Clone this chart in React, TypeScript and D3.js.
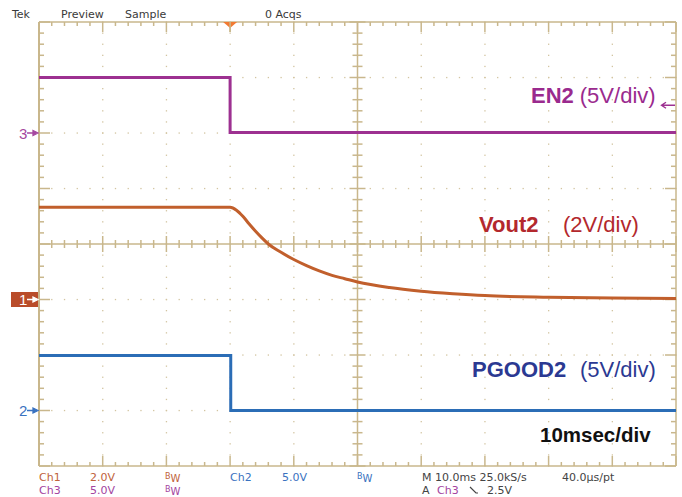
import React from "react";
import * as d3 from "d3";

// ---- data (time in ms, values in volts) ----
const en2Time = [0, 30, 30, 100];
const en2Volts = [5.0, 5.0, 0.05, 0.05];

const pgoodTime = [0, 30.1, 30.1, 100];
const pgoodVolts = [4.95, 4.95, 0.0, 0.0];

const voutTime = [0, 10, 20, 30, 31, 32, 33, 34, 35, 36, 38, 40, 42, 44, 46, 48, 50, 55, 60, 65, 70, 80, 90, 100];
const voutVolts = [3.32, 3.32, 3.32, 3.32, 3.22, 3.0, 2.72, 2.46, 2.22, 2.0, 1.7, 1.44, 1.22, 1.03, 0.87, 0.75, 0.63, 0.43, 0.3, 0.21, 0.14, 0.08, 0.05, 0.04];

// channel settings: volts/div and ground offset (divisions from centre)
const channelNames = ["Ch1", "Ch2", "Ch3"];
const voltsPerDiv = [2, 5, 5];
const groundDiv = [-1, -3, 2];

const headerLabels = ["Tek", "Preview", "Sample", "0 Acqs"];
const timePerDivMs = 10;
const hDivs = 10;
const vDivs = 8;

const W = 682, H = 497;
const L = 39, R = 676, T = 22, B = 466;

const TAN = "#c9b78c";
const DOT = "#d2c4a0";
const PURPLE = "#9d3191";
const ORANGE = "#c15f2c";
const BLUE = "#2b6db6";

export default function App() {
  const x = d3.scaleLinear().domain([0, hDivs * timePerDivMs]).range([L, R]);
  const y = d3.scaleLinear().domain([-vDivs / 2, vDivs / 2]).range([B, T]);
  const chY = (ch: number) => (v: number) => y(groundDiv[ch] + v / voltsPerDiv[ch]);

  const lineFor = (ch: number, curve: any) =>
    d3.line<[number, number]>().x(d => x(d[0])).y(d => chY(ch)(d[1])).curve(curve);

  const en2Path = lineFor(2, d3.curveLinear)(en2Time.map((t, i) => [t, en2Volts[i]]))!;
  const pgPath = lineFor(1, d3.curveLinear)(pgoodTime.map((t, i) => [t, pgoodVolts[i]]))!;
  const voutPath = lineFor(0, d3.curveMonotoneX)(voutTime.map((t, i) => [t, voutVolts[i]]))!;

  const divW = (R - L) / hDivs;
  const divH = (B - T) / vDivs;
  const xMinor = d3.range(0, hDivs * 5 + 1).map(i => L + (i * divW) / 5);
  const yMinor = d3.range(0, vDivs * 5 + 1).map(i => T + (i * divH) / 5);
  const xMajor = d3.range(1, hDivs).map(i => L + i * divW);
  const yMajor = d3.range(1, vDivs).map(i => T + i * divH);
  const cx = L + (hDivs / 2) * divW;
  const cy = T + (vDivs / 2) * divH;

  const ticks: JSX.Element[] = [];
  xMinor.forEach((px, i) => {
    const major = i % 5 === 0;
    const len = major ? 10 : 4;
    ticks.push(<line key={"tt" + i} x1={px} x2={px} y1={T} y2={T + len} />);
    ticks.push(<line key={"tb" + i} x1={px} x2={px} y1={B} y2={B - len} />);
    const cl = major ? 8 : 4;
    ticks.push(<line key={"tc" + i} x1={px} x2={px} y1={cy - cl} y2={cy + cl} />);
  });
  yMinor.forEach((py, i) => {
    const major = i % 5 === 0;
    const len = major ? 11 : 5;
    ticks.push(<line key={"tl" + i} x1={L} x2={L + len} y1={py} y2={py} />);
    ticks.push(<line key={"tr" + i} x1={R} x2={R - len} y1={py} y2={py} />);
    const cl = major ? 8 : 5;
    ticks.push(<line key={"tm" + i} x1={cx - cl} x2={cx + cl} y1={py} y2={py} />);
  });

  const dots: JSX.Element[] = [];
  xMajor.forEach((px, i) => {
    if (Math.abs(px - cx) < 1) return;
    yMinor.forEach((py, j) => {
      dots.push(<rect key={`dv${i}-${j}`} x={px - 0.6} y={py - 0.6} width={1.3} height={1.3} />);
    });
  });
  yMajor.forEach((py, i) => {
    if (Math.abs(py - cy) < 1) return;
    xMinor.forEach((px, j) => {
      dots.push(<rect key={`dh${i}-${j}`} x={px - 0.6} y={py - 0.6} width={1.3} height={1.3} />);
    });
  });

  const mono = "'DejaVu Sans', sans-serif";
  const sans = "'Liberation Sans', Arial, sans-serif";
  const trigX = x(30);
  const trigLevelY = chY(2)(2.5);

  const bw = (xx: number, yy: number, color: string) => (
    <text x={xx} y={yy} fill={color} fontFamily={mono}>
      <tspan fontSize={8} dy={-2}>B</tspan>
      <tspan fontSize={10} dy={3}>W</tspan>
    </text>
  );

  const marker = (yy: number, color: string) =>
    `M27,${yy} L34,${yy} M33,${yy - 2.5} L38,${yy} L33,${yy + 2.5} Z`;

  return (
    <svg width={W} height={H} style={{ position: "absolute", left: 0, top: 0, background: "#fff" }}>
      <rect x={0} y={0} width={W} height={H} fill="#fff" />
      {/* header */}
      <g fontFamily={mono} fontSize={11} fill="#3a3a3a">
        <text x={12} y={17.5}>{headerLabels[0]}</text>
        <text x={61} y={17.5}>{headerLabels[1]}</text>
        <text x={125} y={17.5}>{headerLabels[2]}</text>
        <text x={265} y={17.5}>{headerLabels[3]}</text>
      </g>
      {/* graticule dots */}
      <g fill={DOT}>{dots}</g>
      {/* borders and centre axes */}
      <g stroke={TAN} strokeWidth={1.5} fill="none">
        <line x1={L} x2={R} y1={T} y2={T} />
        <line x1={L} x2={R} y1={B} y2={B} />
        <line x1={L} x2={L} y1={T} y2={B} strokeWidth={2} />
        <line x1={R} x2={R} y1={T} y2={B} />
        <line x1={cx} x2={cx} y1={T} y2={B} />
        <line x1={L} x2={R} y1={cy} y2={cy} />
        {ticks}
      </g>
      {/* trigger position marker */}
      <path d={`M${trigX - 7},${T} L${trigX + 7},${T} L${trigX},${T + 6} Z`} fill="#f27a32" />
      <line x1={trigX} x2={trigX} y1={T} y2={T + 10} stroke={TAN} strokeWidth={1.5} />

      {/* traces */}
      <path d={en2Path} fill="none" stroke={PURPLE} strokeWidth={3} />
      <path d={voutPath} fill="none" stroke={ORANGE} strokeWidth={3} />
      <path d={pgPath} fill="none" stroke={BLUE} strokeWidth={3} />

      {/* channel ground markers */}
      <g fontFamily={sans} fontSize={15}>
        <text x={19} y={chY(2)(0) + 5.5} fill="#a548a0">3</text>
        <path d={marker(chY(2)(0), "")} stroke="#a548a0" fill="#a548a0" strokeWidth={1.3} />
        <rect x={11} y={chY(0)(0) - 7.5} width={27} height={15} fill="#b94c2a" />
        <text x={19} y={chY(0)(0) + 5.5} fill="#fff">1</text>
        <path d={marker(chY(0)(0), "")} stroke="#fff" fill="#fff" strokeWidth={1.3} />
        <text x={19} y={chY(1)(0) + 5.5} fill="#3a72c0">2</text>
        <path d={marker(chY(1)(0), "")} stroke="#3a72c0" fill="#3a72c0" strokeWidth={1.3} />
      </g>
      {/* trigger level marker on right */}
      <path d={`M662,${trigLevelY} L675,${trigLevelY} M666,${trigLevelY - 3} L661.5,${trigLevelY} L666,${trigLevelY + 3}`} stroke={PURPLE} strokeWidth={1.4} fill="none" />

      {/* annotations */}
      <g fontFamily={sans} fontSize={22}>
        <text x={531} y={103} fill="#9a2a8e"><tspan fontWeight="bold">EN2</tspan><tspan dx={6}>(5V/div)</tspan></text>
        <text x={479} y={232} fill="#b3282d"><tspan fontWeight="bold">Vout2</tspan></text>
        <text x={563} y={232} fill="#b3282d">(2V/div)</text>
        <text x={472} y={377} fill="#2b3992"><tspan fontWeight="bold">PGOOD2</tspan></text>
        <text x={580} y={377} fill="#2b3992">(5V/div)</text>
        <text x={540} y={442} fill="#111" fontWeight="bold" fontSize={20.5}>10msec/div</text>
      </g>

      {/* status bar */}
      <g fontFamily={mono} fontSize={11}>
        <text x={39} y={481} fill="#c0623a">{channelNames[0]}</text>
        <text x={90} y={481} fill="#c0623a">{voltsPerDiv[0].toFixed(1)}V</text>
        {bw(165, 481, "#c0623a")}
        <text x={230} y={481} fill="#3a72c0">{channelNames[1]}</text>
        <text x={282} y={481} fill="#3a72c0">{voltsPerDiv[1].toFixed(1)}V</text>
        {bw(357, 481, "#3a72c0")}
        <text x={422} y={481} fill="#444">M 10.0ms 25.0kS/s</text>
        <text x={562} y={481} fill="#444">40.0µs/pt</text>
        <text x={39} y={494} fill="#a344a0">{channelNames[2]}</text>
        <text x={90} y={494} fill="#a344a0">{voltsPerDiv[2].toFixed(1)}V</text>
        {bw(165, 494, "#a344a0")}
        <text x={422} y={494} fill="#444">A</text>
        <text x={437} y={494} fill="#a344a0">{channelNames[2]}</text>
        <path d="M470,487 L476,493 L478,493" stroke="#444" strokeWidth={1.2} fill="none" />
        <text x={487} y={494} fill="#444">2.5V</text>
      </g>
    </svg>
  );
}
